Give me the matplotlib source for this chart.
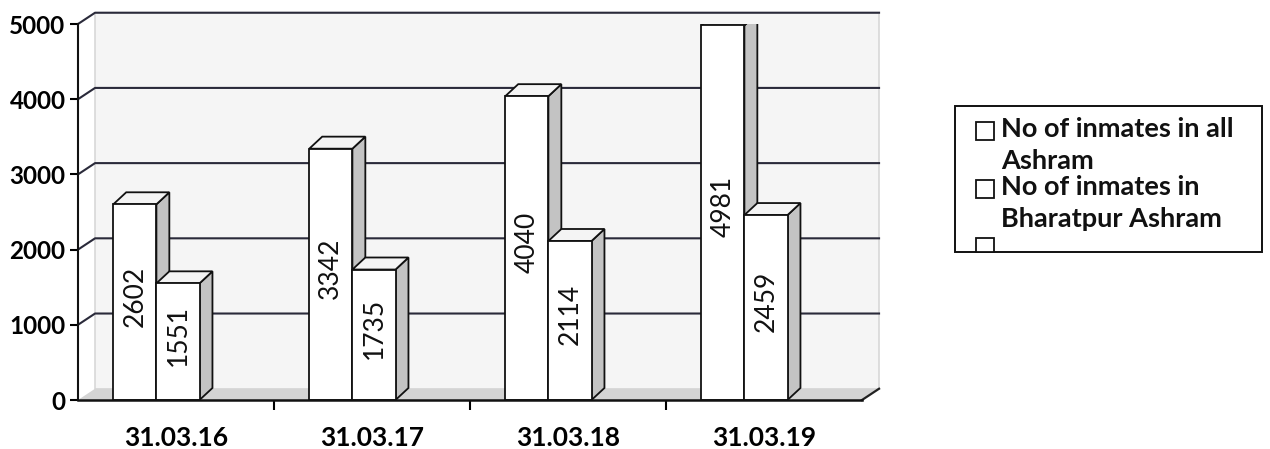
import matplotlib
matplotlib.use("Agg")
import matplotlib.pyplot as plt
from matplotlib.patches import Polygon, Rectangle

dates = ["31.03.16", "31.03.17", "31.03.18", "31.03.19"]
all_ashram = [2602, 3342, 4040, 4981]
bharatpur = [1551, 1735, 2114, 2459]
legend_labels = ["No of inmates in all\nAshram", "No of inmates in\nBharatpur Ashram"]
y_ticks = [0, 1000, 2000, 3000, 4000, 5000]

W, H = 1270, 449
plt.rcParams["font.family"] = ["Lato", "DejaVu Sans"]

fig = plt.figure(figsize=(W / 100, H / 100), dpi=100)
ax = fig.add_axes([78 / W, 49 / H, 784 / W, 376 / H])
ax.set_xlim(-0.5, len(dates) - 0.5)
ax.set_ylim(0, 5000)

# 3d-ish depth (wall and bars)
wdx, wdy = 0.087, 150
bdx, bdy = 0.066, 160
x0, x1 = -0.5, len(dates) - 0.5

# back wall
ax.add_patch(Polygon([(x0 + wdx, wdy), (x1 + wdx, wdy), (x1 + wdx, 5000 + wdy), (x0 + wdx, 5000 + wdy)],
                     closed=True, facecolor="#f5f5f5", edgecolor="#d8d8d8", lw=1.2,
                     clip_on=False, zorder=0))
# floor
ax.add_patch(Polygon([(x0, 0), (x1, 0), (x1 + wdx, wdy), (x0 + wdx, wdy)], closed=True,
                     facecolor="#d4d4d4", edgecolor="none", clip_on=False, zorder=0.5))
ax.plot([x1, x1 + wdx], [0, wdy], color="#222222", lw=1.6, clip_on=False, zorder=0.6)

# gridlines on the wall
for v in y_ticks[1:]:
    ax.plot([x0, x0 + wdx, x1 + wdx], [v, v + wdy, v + wdy], color="#2a2a3a", lw=1.5,
            clip_on=False, zorder=1)


def bar3d(left, width, h, label):
    right = left + width
    ax.add_patch(Polygon([(right, 0), (right + bdx, bdy), (right + bdx, h + bdy), (right, h)],
                         closed=True, facecolor="#c3c3c3", edgecolor="#111111", lw=1.3, zorder=3))
    ax.add_patch(Polygon([(left, h), (right, h), (right + bdx, h + bdy), (left + bdx, h + bdy)],
                         closed=True, facecolor="#f4f4f4", edgecolor="#111111", lw=1.3, zorder=3))
    ax.add_patch(Rectangle((left, 0), width, h, facecolor="white", edgecolor="#111111",
                           lw=1.3, zorder=3))
    ax.text(left + width / 2, h / 2 + bdy / 2, label, rotation=90, ha="center", va="center",
            fontsize=19, color="#111111", zorder=4)


bw = 0.22
for i in range(len(dates)):
    bar3d(i - 0.32, bw, all_ashram[i], str(all_ashram[i]))
    bar3d(i - 0.32 + bw, bw, bharatpur[i], str(bharatpur[i]))

# axes styling
for s in ["top", "right"]:
    ax.spines[s].set_visible(False)
ax.spines["left"].set_color("#111111")
ax.spines["left"].set_linewidth(1.5)
ax.spines["bottom"].set_color("#111111")
ax.spines["bottom"].set_linewidth(1.8)
ax.spines["bottom"].set_zorder(5)
ax.set_yticks(y_ticks)
ax.set_yticklabels([str(v) for v in y_ticks], fontsize=17.5, fontweight="bold")
ax.tick_params(axis="y", length=6, width=1.5, pad=3)
ax.set_xticks(range(len(dates)))
ax.set_xticklabels(dates, fontsize=19, fontweight="bold")
ax.tick_params(axis="x", length=0, pad=19)
ax.set_xticks([i + 0.5 for i in range(len(dates) - 1)], minor=True)
ax.tick_params(axis="x", which="minor", length=7, width=1.5, direction="out")
ax.patch.set_alpha(0)


# legend drawn by hand to keep the clipped third square
def fx(px):
    return px / W


def fy(py):
    return (H - py) / H


fig.add_artist(Rectangle((fx(955), fy(252)), fx(1262) - fx(955), fy(106) - fy(252),
                         transform=fig.transFigure, facecolor="white", edgecolor="#111111", lw=1.4))
for k, (lab, ytop) in enumerate(zip(legend_labels, [122, 180])):
    fig.add_artist(Rectangle((fx(976), fy(ytop + 18)), 18 / W, 18 / H, transform=fig.transFigure,
                             facecolor="white", edgecolor="#111111", lw=1.3))
    fig.text(fx(1001), fy(ytop - 5), lab, ha="left", va="top", fontsize=19.5, fontweight="bold",
             linespacing=1.42, color="#111111")
fig.add_artist(Rectangle((fx(976), fy(252)), 18 / W, 14 / H, transform=fig.transFigure,
                         facecolor="white", edgecolor="#111111", lw=1.3))

fig.savefig("out.png", dpi=100, facecolor="white")
